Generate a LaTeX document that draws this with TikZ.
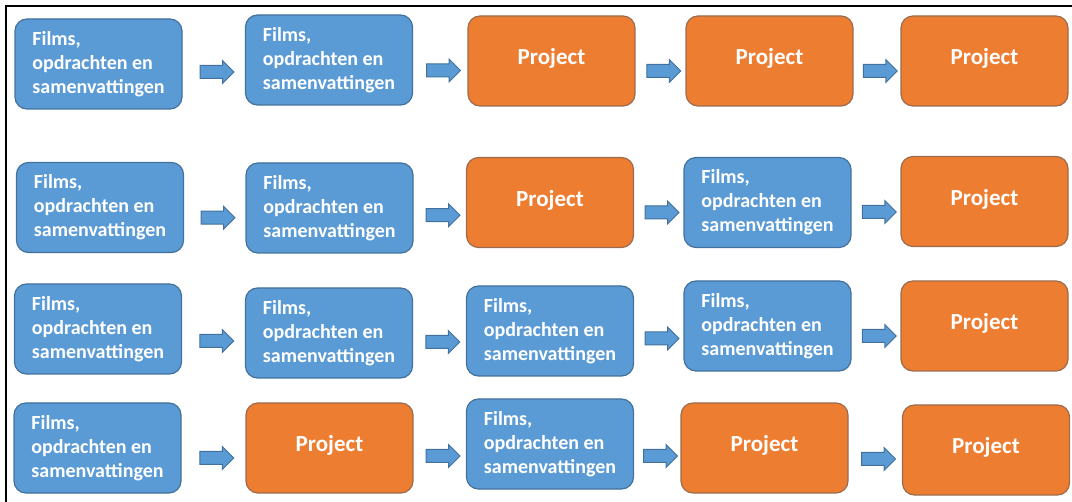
\documentclass[tikz,border=0pt]{standalone}
\usepackage{fontspec}
\setmainfont{Carlito}
\usepackage{xcolor}
\usepackage{tikz}
\usetikzlibrary{calc}
\usetikzlibrary{shapes.arrows, positioning}

\definecolor{filmblauw}{HTML}{5B9BD5}
\definecolor{filmrand}{HTML}{41719C}
\definecolor{projectoranje}{HTML}{ED7D31}
\definecolor{projectrand}{HTML}{9C6B4E}

\begin{document}
\begin{tikzpicture}[x=0.5pt,y=-0.5pt,
                    box/.style={rectangle,rounded corners=6pt,line width=0.6pt,
                      minimum width=83.5pt,minimum height=45pt,inner sep=0pt,
                      text=white,font=\bfseries},
                    film/.style={box,draw=filmrand,fill=filmblauw,align=left,
                      font=\bfseries\fontsize{10}{12}\selectfont,
                      execute at begin node={\rule{0pt}{11pt}}},
                    project/.style={box,draw=projectrand,fill=projectoranje,
                      font=\bfseries\fontsize{11.5}{13}\selectfont,
                      execute at end node={\rule[-4.5pt]{0pt}{4.5pt}}},
                    pijl/.style={single arrow,draw=filmrand,fill=filmblauw,line width=0.5pt,
                      minimum height=17pt,minimum width=0pt,single arrow head extend=2.5pt,
                      inner sep=0pt,text height=6pt,text depth=0pt,yshift=-5pt}]

  \useasboundingbox (0,0) rectangle (1072,502);
  \draw[line width=1pt] (1072,6) -- (6,6) -- (6,502);

  % rij 1
  \node[film] (b11) at (98.5,64) {Films,\\opdrachten en\\samenvattingen};
  \node[film] (b12) at (329,60) {Films,\\opdrachten en\\samenvattingen};
  \node[project] (b13) at (551.5,61) {Project};
  \node[project] (b14) at (769.5,61) {Project};
  \node[project] (b15) at (984.5,61) {Project};

  % rij 2
  \node[film] (b21) at (100,207.5) {Films,\\opdrachten en\\samenvattingen};
  \node[film] (b22) at (329.5,208) {Films,\\opdrachten en\\samenvattingen};
  \node[project] (b23) at (550,202.5) {Project};
  \node[film] (b24) at (767.5,202.5) {Films,\\opdrachten en\\samenvattingen};
  \node[project] (b25) at (984.5,201.5) {Project};

  % rij 3
  \node[film] (b31) at (98,329) {Films,\\opdrachten en\\samenvattingen};
  \node[film] (b32) at (329,333) {Films,\\opdrachten en\\samenvattingen};
  \node[film] (b33) at (550,331) {Films,\\opdrachten en\\samenvattingen};
  \node[film] (b34) at (767.5,326) {Films,\\opdrachten en\\samenvattingen};
  \node[project] (b35) at (984.5,326) {Project};

  % rij 4
  \node[film] (b41) at (97.5,448) {Films,\\opdrachten en\\samenvattingen};
  \node[project] (b42) at (329.5,448) {Project};
  \node[film] (b43) at (550,444) {Films,\\opdrachten en\\samenvattingen};
  \node[project] (b44) at (764.5,448) {Project};
  \node[project] (b45) at (986,450) {Project};

  % pijlen
  \node[pijl] (a11) at ($(b11.east)!.5!(b12.west)$) {};
  \node[pijl] (a12) at ($(b12.east)!.5!(b13.west)$) {};
  \node[pijl] (a13) at ($(b13.east)!.5!(b14.west)$) {};
  \node[pijl] (a14) at ($(b14.east)!.5!(b15.west)$) {};
  \node[pijl] (a21) at ($(b21.east)!.5!(b22.west)$) {};
  \node[pijl] (a22) at ($(b22.east)!.5!(b23.west)$) {};
  \node[pijl] (a23) at ($(b23.east)!.5!(b24.west)$) {};
  \node[pijl] (a24) at ($(b24.east)!.5!(b25.west)$) {};
  \node[pijl] (a31) at ($(b31.east)!.5!(b32.west)$) {};
  \node[pijl] (a32) at ($(b32.east)!.5!(b33.west)$) {};
  \node[pijl] (a33) at ($(b33.east)!.5!(b34.west)$) {};
  \node[pijl] (a34) at ($(b34.east)!.5!(b35.west)$) {};
  \node[pijl] (a41) at ($(b41.east)!.5!(b42.west)$) {};
  \node[pijl] (a42) at ($(b42.east)!.5!(b43.west)$) {};
  \node[pijl] (a43) at ($(b43.east)!.5!(b44.west)$) {};
  \node[pijl] (a44) at ($(b44.east)!.5!(b45.west)$) {};

\end{tikzpicture}
\end{document}
